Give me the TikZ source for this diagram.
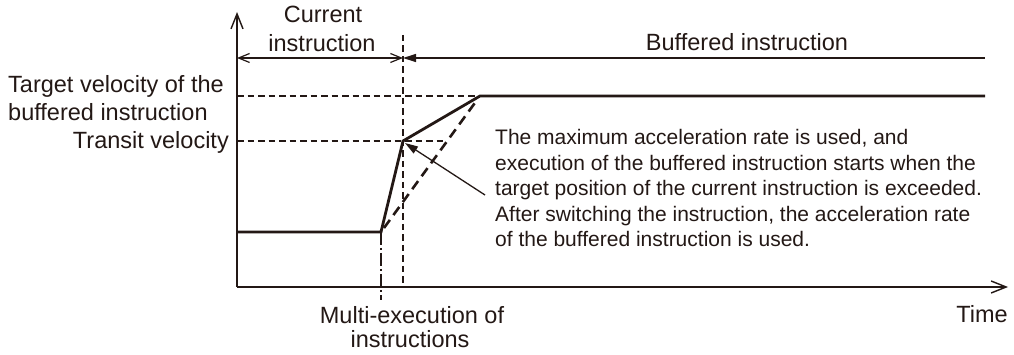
\documentclass[tikz,border=0pt]{standalone}
\usepackage{fontspec}
\setmainfont{Liberation Sans}
\usetikzlibrary{arrows.meta}
\definecolor{ink}{HTML}{231815}
\tikzset{
  lbl/.style={inner sep=0pt, text=ink, font=\fontsize{23.5}{28}\selectfont},
  ann/.style={inner sep=0pt, text=ink, font=\fontsize{21}{25.5}\selectfont, anchor=base west},
  axisline/.style={draw=ink, line width=1.5pt, -{Straight Barb[length=15pt,width=12pt,line width=1.4pt]}},
  guide/.style={draw=ink, line width=1.1pt, dash pattern=on 6.5pt off 4pt},
  chain/.style={draw=ink, line width=1.1pt, dash pattern=on 13pt off 3pt on 2pt off 3pt},
  profile/.style={draw=ink, line width=2.8pt, line join=miter},
  thickdash/.style={draw=ink, line width=2.6pt, dash pattern=on 10pt off 6pt},
  spanarrow/.style={draw=ink, line width=1.2pt},
}
\begin{document}
\begin{tikzpicture}[x=1pt, y=-1pt]
\useasboundingbox (0,0) rectangle (1014,355);
% key points
\coordinate (O) at (237,287);
\coordinate (Ytop) at (237,12);
\coordinate (Xend) at (1008,287);
\coordinate (P0) at (237,232);
\coordinate (P1) at (381,232);
\coordinate (P2) at (403,141);
\coordinate (P3) at (480,96);
\coordinate (P4) at (985,96);
\coordinate (Vtop) at (403,35);
\coordinate (Vbot) at (403,287);
\coordinate (Mbot) at (381,300);
\coordinate (T1) at (237,96);
\coordinate (T2) at (237,141);
\coordinate (T2e) at (443,141);
\coordinate (S1) at (237,58);
\coordinate (S2) at (403,58);
\coordinate (S3) at (985,58);
\coordinate (D0) at (384,228);
\coordinate (D1) at (477,100);
\coordinate (Atail) at (485,195);
\coordinate (Atip) at (405,143);

% guides
\draw[guide] (T1) -- (P3);
\draw[guide] (T2) -- (T2e);
\draw[guide] (Vtop) -- (Vbot);
\draw[chain] (P1) -- (Mbot);

% axes
\draw[axisline] (O) -- (Ytop);
\draw[axisline] (O) -- (Xend);

% span arrows
\draw[spanarrow, {Straight Barb[length=11pt,width=9pt,line width=1.2pt]}-{Straight Barb[length=11pt,width=9pt,line width=1.2pt]}] (S1) -- (S2);
\draw[spanarrow, {Triangle[length=13pt,width=8pt]}-] (S2) -- (S3);

% profiles
\draw[thickdash] (D0) -- (D1);
\draw[profile] (P0) -- (P1) -- (P2) -- (P3) -- (P4);

% annotation arrow
\draw[draw=ink, line width=1.3pt, -{Triangle[length=13pt,width=8pt]}] (Atail) -- (Atip);

% labels
\node[lbl, anchor=base] (cur1) at (323,23) {Current};
\node[lbl, anchor=base] (cur2) at (322,52) {instruction};
\node[lbl, anchor=base] (buf) at (747,51) {Buffered instruction};
\node[lbl, anchor=base west] (tv1) at (8,92.5) {Target velocity of the};
\node[lbl, anchor=base west] (tv2) at (8,120.5) {buffered instruction};
\node[lbl, anchor=base east] (trv) at (229,149) {Transit velocity};
\node[lbl, anchor=base east] (time) at (1008,322) {Time};
\node[lbl, anchor=base] (me1) at (412,323) {Multi-execution of};
\node[lbl, anchor=base] (me2) at (410,347) {instructions};

\node[ann] (a1) at (495,145) {The maximum acceleration rate is used, and};
\node[ann] (a2) at (495,170.5) {execution of the buffered instruction starts when the};
\node[ann] (a3) at (495,196) {target position of the current instruction is exceeded.};
\node[ann] (a4) at (495,221.5) {After switching the instruction, the acceleration rate};
\node[ann] (a5) at (495,247) {of the buffered instruction is used.};
\end{tikzpicture}
\end{document}
